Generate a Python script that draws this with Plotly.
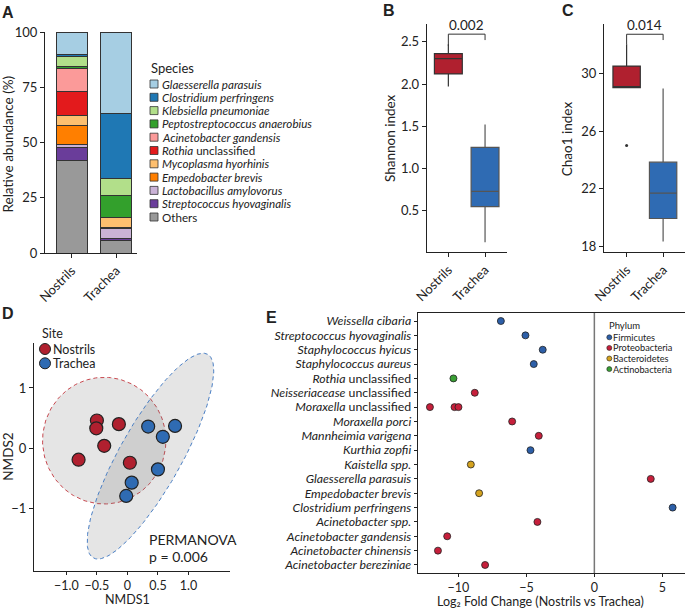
import numpy as np
import plotly.graph_objects as go

W, H = 685, 608
FONT = "Lato"
INK = "#222222"

# ---------------- Panel A: relative abundance ----------------
sites = ["Nostrils", "Trachea"]
species_labels = [
    "<i>Glaesserella parasuis</i>",
    "<i>Clostridium perfringens</i>",
    "<i>Klebsiella pneumoniae</i>",
    "<i>Peptostreptococcus anaerobius</i>",
    "<i>Acinetobacter gandensis</i>",
    "<i>Rothia</i> unclassified",
    "<i>Mycoplasma hyorhinis</i>",
    "<i>Empedobacter brevis</i>",
    "<i>Lactobacillus amylovorus</i>",
    "<i>Streptococcus hyovaginalis</i>",
    "Others",
]
species_colors = ["#a6cee3", "#1f78b4", "#b2df8a", "#33a02c", "#fb9a99", "#e31a1c",
                  "#fdbf6f", "#ff7f00", "#cab2d6", "#6a3d9a", "#999999"]
abund_nostrils = [10.4, 0.9, 4.4, 0.7, 10.7, 10.5, 4.5, 8.9, 1.2, 5.9, 41.9]
abund_trachea = [36.7, 29.8, 7.7, 9.8, 0.0, 0.0, 4.4, 0.3, 4.7, 0.9, 5.7]

# ---------------- Panel B: Shannon ----------------
shannon_q1 = [2.12, 0.55]
shannon_median = [2.30, 0.73]
shannon_q3 = [2.36, 1.25]
shannon_low = [1.97, 0.13]
shannon_high = [2.47, 1.52]
shannon_p = "0.002"

# ---------------- Panel C: Chao1 ----------------
chao_q1 = [29.0, 19.95]
chao_median = [29.0, 21.7]
chao_q3 = [30.5, 23.85]
chao_low = [29.0, 18.35]
chao_high = [32.0, 28.95]
chao_outlier_y = [25.0]
chao_p = "0.014"

site_colors = ["#b0202f", "#2f6bb3"]

# ---------------- Panel D: NMDS ----------------
nmds_nostrils_x = [-0.50, -0.51, -0.14, -0.38, -0.80, 0.04]
nmds_nostrils_y = [0.46, 0.33, 0.40, 0.04, -0.19, -0.24]
nmds_trachea_x = [0.34, 0.78, 0.58, 0.50, 0.07, -0.02]
nmds_trachea_y = [0.36, 0.37, 0.19, -0.35, -0.57, -0.79]
# ellipse: centre x, centre y, semi-axis a, semi-axis b, angle (deg)
ellipse_nostrils = [-0.38, 0.126, 1.01, 1.05, 0.0]
ellipse_trachea = [0.377, -0.13, 1.93, 0.51, 61.0]
permanova_p = "0.006"

# ---------------- Panel E: log2 fold change ----------------
e_labels = [  # bottom to top
    "<i>Acinetobacter bereziniae</i>",
    "<i>Acinetobacter chinensis</i>",
    "<i>Acinetobacter gandensis</i>",
    "<i>Acinetobacter spp.</i>",
    "<i>Clostridium perfringens</i>",
    "<i>Empedobacter brevis</i>",
    "<i>Glaesserella parasuis</i>",
    "<i>Kaistella spp.</i>",
    "<i>Kurthia zopfii</i>",
    "<i>Mannheimia varigena</i>",
    "<i>Moraxella porci</i>",
    "<i>Moraxella</i> unclassified",
    "<i>Neisseriacease</i> unclassified",
    "<i>Rothia</i> unclassified",
    "<i>Staphylococcus aureus</i>",
    "<i>Staphylococcus hyicus</i>",
    "<i>Streptococcus hyovaginalis</i>",
    "<i>Weissella cibaria</i>",
]
e_point_row = [0, 1, 2, 3, 4, 5, 6, 7, 8, 9, 10, 11, 11, 11, 12, 13, 14, 15, 16, 17]
e_point_lfc = [-8.04, -11.51, -10.83, -4.19, 5.76, -8.48, 4.15, -9.09, -4.70, -4.09,
               -6.05, -12.10, -10.29, -10.0, -8.80, -10.37, -4.46, -3.80, -5.07, -6.88]
e_point_phylum = ["Proteobacteria", "Proteobacteria", "Proteobacteria", "Proteobacteria",
                  "Firmicutes", "Bacteroidetes", "Proteobacteria", "Bacteroidetes",
                  "Firmicutes", "Proteobacteria", "Proteobacteria", "Proteobacteria",
                  "Proteobacteria", "Proteobacteria", "Proteobacteria", "Actinobacteria",
                  "Firmicutes", "Firmicutes", "Firmicutes", "Firmicutes"]
phyla = ["Firmicutes", "Proteobacteria", "Bacteroidetes", "Actinobacteria"]
phylum_colors = ["#2d5fa8", "#c61f3b", "#d4a21e", "#3a9f34"]


# ---------------- helpers ----------------
def xd(p0, p1):
    return [max(0.0, p0 / W), min(1.0, p1 / W)]


def yd(top, bottom):
    return [max(0.0, 1 - bottom / H), min(1.0, 1 - top / H)]


TICK = 13


def ax(**kw):
    d = dict(showline=True, linecolor=INK, linewidth=1, ticks="outside", ticklen=4,
             tickcolor=INK, tickwidth=1, showgrid=False, zeroline=False, automargin=False,
             tickfont=dict(family=FONT, size=TICK, color=INK), fixedrange=True)
    d.update(kw)
    return d


fig = go.Figure()

# ---- A bars (stack bottom -> top)
for i in reversed(range(len(species_labels))):
    fig.add_trace(go.Bar(
        x=[0, 1], y=[abund_nostrils[i], abund_trachea[i]], width=0.7,
        marker=dict(color=species_colors[i], line=dict(color="#333333", width=1)),
        xaxis="x", yaxis="y", showlegend=False, hoverinfo="skip"))

# ---- B / C boxes
for k in range(2):
    fig.add_trace(go.Box(
        x=[k], q1=[shannon_q1[k]], median=[shannon_median[k]], q3=[shannon_q3[k]],
        lowerfence=[shannon_low[k]], upperfence=[shannon_high[k]], width=0.76,
        fillcolor=site_colors[k], line=dict(color="#333333" if k == 0 else "#555555", width=1.2),
        whiskerwidth=0, boxpoints=False, xaxis="x2", yaxis="y2", showlegend=False))
    fig.add_trace(go.Box(
        x=[k], q1=[chao_q1[k]], median=[chao_median[k]], q3=[chao_q3[k]],
        lowerfence=[chao_low[k]], upperfence=[chao_high[k]], width=0.75,
        fillcolor=site_colors[k], line=dict(color="#333333" if k == 0 else "#555555", width=1.2),
        whiskerwidth=0, boxpoints=False, xaxis="x3", yaxis="y3", showlegend=False))
fig.add_trace(go.Scatter(x=[0] * len(chao_outlier_y), y=chao_outlier_y, mode="markers",
                         marker=dict(size=3, color="#333333"), xaxis="x3", yaxis="y3",
                         showlegend=False))

# significance brackets
fig.add_trace(go.Scatter(x=[0, 0, 1, 1], y=[2.45, 2.59, 2.59, 2.52], mode="lines",
                         line=dict(color="#333333", width=1), xaxis="x2", yaxis="y2",
                         showlegend=False))
fig.add_trace(go.Scatter(x=[0, 0, 1, 1], y=[32.0, 32.7, 32.7, 32.3], mode="lines",
                         line=dict(color="#333333", width=1), xaxis="x3", yaxis="y3",
                         showlegend=False))


# ---- D ellipses and points
def ellipse_path(cx, cy, a, b, ang):
    t = np.linspace(0, 2 * np.pi, 181)
    th = np.deg2rad(ang)
    ex = cx + a * np.cos(t) * np.cos(th) - b * np.sin(t) * np.sin(th)
    ey = cy + a * np.cos(t) * np.sin(th) + b * np.sin(t) * np.cos(th)
    return ex, ey


for ell, col in [(ellipse_nostrils, "#c8484f"), (ellipse_trachea, "#4a7fc4")]:
    ex, ey = ellipse_path(*ell)
    fig.add_trace(go.Scatter(x=ex, y=ey, mode="lines", fill="toself",
                             fillcolor="rgba(110,110,110,0.18)",
                             line=dict(color=col, width=1, dash="4px,3px"),
                             xaxis="x4", yaxis="y4", showlegend=False, hoverinfo="skip"))
fig.add_trace(go.Scatter(x=nmds_nostrils_x, y=nmds_nostrils_y, mode="markers",
                         marker=dict(size=13, color=site_colors[0], line=dict(color=INK, width=1.2)),
                         xaxis="x4", yaxis="y4", showlegend=False))
fig.add_trace(go.Scatter(x=nmds_trachea_x, y=nmds_trachea_y, mode="markers",
                         marker=dict(size=13, color=site_colors[1], line=dict(color=INK, width=1.2)),
                         xaxis="x4", yaxis="y4", showlegend=False))

# ---- E points
pcol = {p: c for p, c in zip(phyla, phylum_colors)}
fig.add_trace(go.Scatter(x=e_point_lfc, y=e_point_row, mode="markers",
                         marker=dict(size=7, color=[pcol[p] for p in e_point_phylum],
                                     line=dict(color=INK, width=0.8)),
                         xaxis="x5", yaxis="y5", showlegend=False, cliponaxis=False))

# ---- custom legends in pixel-coordinate helper axes (x6/y6)
n_sp = len(species_labels)
fig.add_trace(go.Scatter(x=[154] * n_sp, y=[84 + 13.3 * i for i in range(n_sp)], mode="markers",
                         marker=dict(symbol="square", size=8, color=species_colors,
                                     line=dict(color="#333333", width=0.8)),
                         xaxis="x6", yaxis="y6", showlegend=False, hoverinfo="skip"))
fig.add_trace(go.Scatter(x=[45, 45], y=[349, 363.3], mode="markers",
                         marker=dict(size=11, color=site_colors, line=dict(color=INK, width=1)),
                         xaxis="x6", yaxis="y6", showlegend=False, hoverinfo="skip"))
fig.add_trace(go.Scatter(x=[609.3] * 4, y=[337.3 + 10.6 * i for i in range(4)], mode="markers",
                         marker=dict(size=5, color=phylum_colors, line=dict(color=INK, width=0.6)),
                         xaxis="x6", yaxis="y6", showlegend=False, hoverinfo="skip"))

ann = []


def txt(x, y, s, size=12, xanchor="center", yanchor="middle", angle=0, bold=False, family=FONT):
    ann.append(dict(x=x, y=y, xref="x6", yref="y6", text=("<b>%s</b>" % s) if bold else s,
                    showarrow=False, xanchor=xanchor, yanchor=yanchor, textangle=angle,
                    font=dict(family=family, size=size, color=INK), borderpad=0))


# panel letters
for L, (x, y) in zip("ABCDE", [(8, 12.5), (389, 10), (567.5, 10), (7.5, 313), (271, 317.5)]):
    txt(x, y, L, size=16, bold=True, family="Liberation Sans")

# legend texts
txt(150, 68, "Species", size=13, xanchor="left")
for i, s in enumerate(species_labels):
    txt(160.5, 84 + 13.3 * i, s, size=11.6, xanchor="left")
txt(40.5, 333.3, "Site", size=12.5, xanchor="left")
txt(51.5, 349, sites[0], size=12.5, xanchor="left")
txt(51.5, 363.3, sites[1], size=12.5, xanchor="left")
txt(607.5, 325, "Phylum", size=9.5, xanchor="left")
for i, p in enumerate(phyla):
    txt(612.3, 337.3 + 10.6 * i, p, size=9.2, xanchor="left")

# axis titles
txt(7.5, 144, "Relative abundance (%)", size=13.5, angle=-90)
txt(390, 138, "Shannon index", size=13.5, angle=-90)
txt(566.7, 138.5, "Chao1 index", size=13.5, angle=-90)
txt(8, 456.7, "NMDS2", size=13.5, angle=-90)
txt(127.3, 599.5, "NMDS1", size=12.5)
txt(540, 601, "Log₂ Fold Change (Nostrils vs Trachea)", size=12.5)

# p values
txt(466.7, 25, shannon_p, size=13.5)
txt(644.8, 25, chao_p, size=13.5)
txt(148.3, 539.3, "PERMANOVA", size=14, xanchor="left")
txt(148.3, 556, "p = " + permanova_p, size=14, xanchor="left")

shapes = [dict(type="line", xref="x5", yref="y5 domain", x0=0, x1=0, y0=0, y1=1,
               line=dict(color="#777777", width=1.5), layer="below")]

fig.update_layout(
    template="none",
    width=W, height=H, margin=dict(l=0, r=0, t=0, b=0, pad=0),
    paper_bgcolor="white", plot_bgcolor="rgba(0,0,0,0)",
    barmode="stack", boxmode="overlay", showlegend=False,
    font=dict(family=FONT, size=12, color=INK),
    annotations=ann, shapes=shapes,
    xaxis=ax(domain=xd(45, 137), range=[-0.6, 1.47], tickvals=[0, 1], ticktext=sites,
             tickangle=-45, anchor="y"),
    yaxis=ax(domain=yd(32, 253), range=[0, 100], tickvals=[0, 25, 50, 75, 100], anchor="x"),
    xaxis2=ax(domain=xd(426.7, 506.7), range=[-0.59, 1.59], tickvals=[0, 1], ticktext=sites,
              tickangle=-45, anchor="y2"),
    yaxis2=ax(domain=yd(24, 252.3), range=[0.01, 2.71], tickvals=[0.5, 1.0, 1.5, 2.0, 2.5],
              ticktext=["0.5", "1.0", "1.5", "2.0", "2.5"], anchor="x2"),
    xaxis3=ax(domain=xd(604, 685), range=[-0.62, 1.6], tickvals=[0, 1], ticktext=sites,
              tickangle=-45, anchor="y3"),
    yaxis3=ax(domain=yd(24, 252.3), range=[17.61, 33.41], tickvals=[18, 22, 26, 30], anchor="x3"),
    xaxis4=ax(domain=xd(34, 230), range=[-1.53, 1.68], tickvals=[-1.0, -0.5, 0, 0.5, 1.0],
              ticktext=["\u22121.0", "\u22120.5", "0", "0.5", "1.0"], anchor="y4", ticklen=3,
              tickfont=dict(family=FONT, size=12.5, color=INK)),
    yaxis4=ax(domain=yd(343.3, 570.7), range=[-2.03, 1.74], tickvals=[-1, 0, 1],
              ticktext=["\u22121", "0", "1"], anchor="x4"),
    xaxis5=ax(domain=xd(417.7, 685), range=[-13, 6.67], tickvals=[-10, -5, 0, 5],
              ticktext=["\u221210", "\u22125", "0", "5"], anchor="y5", mirror=True, ticklen=3,
              tickfont=dict(family=FONT, size=12.5, color=INK)),
    yaxis5=ax(domain=yd(312.7, 573.3), range=[-0.58, 17.58], tickvals=list(range(len(e_labels))),
              ticktext=e_labels, anchor="x5", mirror=True, ticklen=3,
              tickfont=dict(family=FONT, size=12.3, color=INK)),
    xaxis6=dict(domain=[0, 1], range=[0, W], visible=False, fixedrange=True, anchor="y6",
                automargin=False),
    yaxis6=dict(domain=[0, 1], range=[H, 0], visible=False, fixedrange=True, anchor="x6",
                automargin=False),
)

fig.write_html("out.html", config={"displayModeBar": False},
               post_script="document.body.style.margin='0px';document.body.style.overflow='hidden';")
